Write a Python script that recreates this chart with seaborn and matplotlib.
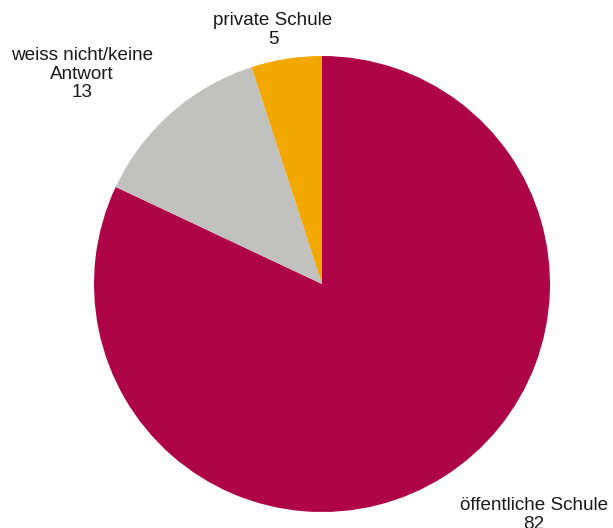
import matplotlib
matplotlib.use("Agg")
import matplotlib.pyplot as plt
import seaborn as sns

# Anteile (Prozent)
categories = ["öffentliche Schule", "weiss nicht/keine\nAntwort", "private Schule"]
values = [82, 13, 5]
colors = ["#AE0547", "#C1C1C0", "#F3A800"]

sns.set_theme(style="white")
plt.rcParams['font.family'] = ['Liberation Sans', 'DejaVu Sans']

fig = plt.figure(figsize=(6.13, 5.28), dpi=100)
# Kreis: Mitte bei (322, 284) px, Radius 228 px
ax = fig.add_axes([(322 - 228) / 613, 16 / 528, 456 / 613, 456 / 528])
ax.pie(values, colors=colors, startangle=90, counterclock=False,
       wedgeprops=dict(linewidth=0))
ax.set_xlim(-1, 1)
ax.set_ylim(-1, 1)
ax.set_aspect("equal")
ax.axis("off")

# Beschriftungen ausserhalb des Kreises
label_pos = [(0.930, -1.013), (-1.053, 0.921), (-0.215, 1.114)]
for name, val, (x, y) in zip(categories, values, label_pos):
    ax.text(x, y, f"{name}\n{val}", ha="center", va="center",
            fontsize=13.6, linespacing=1.1, color="#1a1a1a")

fig.savefig("out.png", dpi=100)
